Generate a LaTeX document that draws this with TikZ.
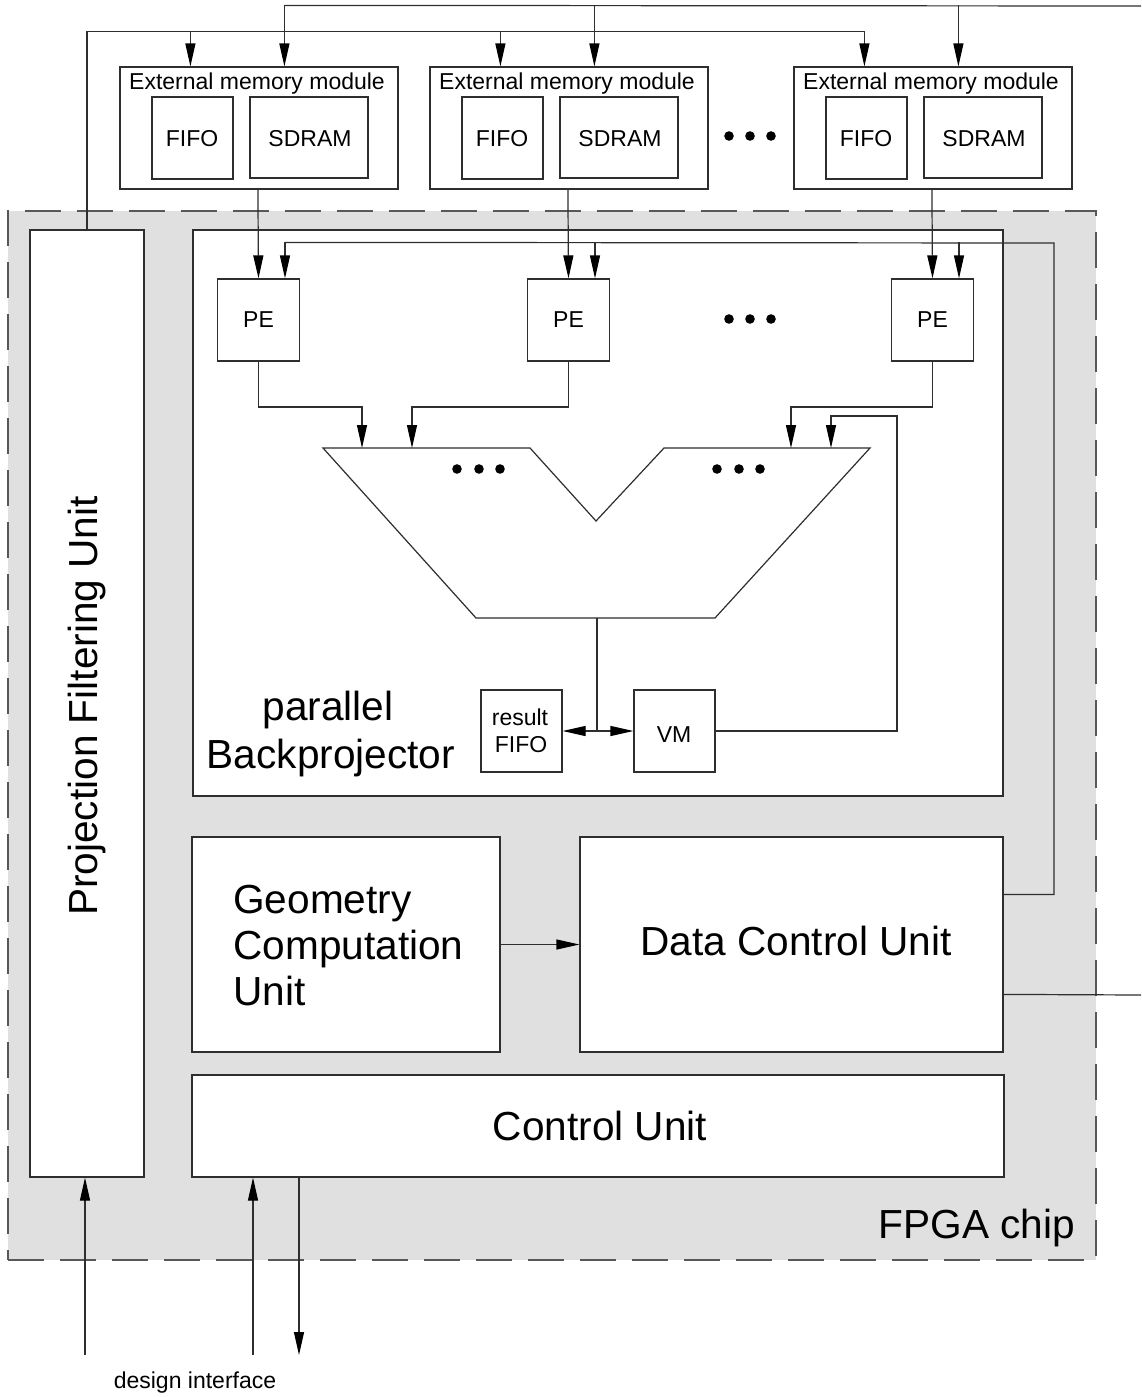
\documentclass[tikz,border=0pt]{standalone}
\usepackage{fontspec}
\setmainfont{Liberation Sans}
\usetikzlibrary{arrows.meta,fit,calc}
\definecolor{chipgray}{HTML}{E0E0E0}
\definecolor{ln}{HTML}{2E2E2E}
\begin{document}
\begin{tikzpicture}[x=0.5pt,y=-0.5pt,
  box/.style={draw=ln, line width=0.6pt, fill=white, inner sep=0pt},
  wire/.style={draw=ln, line width=0.6pt},
  arr/.style={wire, -{Triangle[length=11.5pt,width=5pt,color=black]}},
  small/.style={font=\fontsize{11.5}{13}\selectfont, inner sep=0pt, anchor=base},
  big/.style={font=\fontsize{20.3}{23}\selectfont, inner sep=0pt, anchor=base},
  dot/.style={fill=black},
]
\useasboundingbox (0,0) rectangle (1141,1397);

% FPGA chip area
\node[fit={(8,211) (1096,1260)}, inner sep=0pt, fill=chipgray, draw=ln!80,
      dash pattern=on 18pt off 8pt, line width=0.6pt] (chip) {};
\node[big] (chiplbl) at (977,1238) {FPGA chip};

% External memory modules
\foreach \i/\L in {1/120, 2/430, 3/794} {
  \node[box, fit={(\L,67) ($(\L,67)+(278,122)$)}] (m\i) {};
  \node[box, fit={($(\L,97)+(32,0)$) ($(\L,97)+(113,82)$)}] (f\i) {};
  \node[box, fit={($(\L,97)+(130,0)$) ($(\L,97)+(248,81)$)}] (s\i) {};
  \node[small] (mt\i) at ($(\L,89)+(137,0)$) {External memory module};
  \node[small] (ft\i) at ($(\L,146)+(72,0)$) {FIFO};
  \node[small] (st\i) at ($(\L,146)+(190,0)$) {SDRAM};
}
\foreach \x in {729,750,771} \fill[dot] (\x,136) circle[radius=2.4pt];

% Projection Filtering Unit
\node[box, fit={(30,230) (144,1177)}] (pfu) {};
\node[big, rotate=90] (pfut) at (97,706) {Projection Filtering Unit};

% parallel Backprojector
\node[box, fit={(193,230) (1003,796)}] (bp) {};
\node[big] (bpt1) at (328,720) {parallel};
\node[big] (bpt2) at (331,768) {Backprojector};

% PEs
\node[box, fit={(217.5,279) (299.5,361)}] (pe1) {};
\node[box, fit={(527.5,279) (609.5,361)}] (pe2) {};
\node[box, fit={(891.5,279) (973.5,361)}] (pe3) {};
\foreach \p in {pe1,pe2,pe3} \node[small] at ($(\p.center)+(0,7)$) {PE};
\foreach \x in {729,750,771} \fill[dot] (\x,319) circle[radius=2.4pt];

% adder tree
\draw[wire, fill=white] (323,448) -- (530,448) -- (596,521) -- (664,448) -- (870,448)
   -- (715,618) -- (476,618) -- cycle;
\foreach \x in {457,479,500} \fill[dot] (\x,469) circle[radius=2.4pt];
\foreach \x in {717,739,760} \fill[dot] (\x,469) circle[radius=2.4pt];
\coordinate (in1) at (362,448);
\coordinate (in2) at (412,448);
\coordinate (in3) at (791,448);
\coordinate (in4) at (831,448);
\coordinate (addout) at (597,618);

% result FIFO and VM
\node[box, fit={(481,690) (562,772)}] (rf) {};
\node[small] at (520,725) {result};
\node[small] at (521,752) {FIFO};
\node[box, fit={(634,690) (715,772)}] (vm) {};
\node[small] at (674,742) {VM};

% lower units
\node[box, fit={(192,837) (500,1052)}] (gcu) {};
\node[big, anchor=base west] at (233,913) {Geometry};
\node[big, anchor=base west] at (233,959) {Computation};
\node[big, anchor=base west] at (233,1005) {Unit};
\node[box, fit={(580,837) (1003,1052)}] (dcu) {};
\node[big] at (796,955) {Data Control Unit};
\node[box, fit={(192,1075) (1004,1177)}] (cu) {};
\node[big] at (600,1140) {Control Unit};

% ---- connectors ----
\coordinate (topR) at (1141,6);
\coordinate (dcuR) at (1141,995);
\draw[wire] ($(m1.north west)+(165,-61)$) -- (topR);
\foreach \m in {m1,m2,m3}
  \draw[arr] ($(\m.north west)+(165,-61)$) -- ($(\m.north west)+(165,0)$);
\draw[wire] (pfu.north) |- ($(m3.north west)+(71,-35)$);
\foreach \m in {m1,m2,m3}
  \draw[arr] ($(\m.north west)+(71,-35)$) -- ($(\m.north west)+(71,0)$);

\draw[arr] ($(m1.south west)+(138.5,0)$) -- (pe1.north);
\draw[arr] ($(m2.south west)+(138.5,0)$) -- (pe2.north);
\draw[arr] ($(m3.south west)+(138.5,0)$) -- (pe3.north);

\draw[wire] ($(dcu.north east)+(0,58)$) -| (1054,243) -- ($(pe1.north)+(26.5,-36)$);
\foreach \p in {pe1,pe2,pe3}
  \draw[arr] ($(\p.north)+(26.5,-36)$) -- ($(\p.north)+(26.5,0)$);

\draw[arr] (pe1.south) |- (362,407) -- (in1);
\draw[arr] (pe2.south) |- (412,407) -- (in2);
\draw[arr] (pe3.south) |- (791,407) -- (in3);
\draw[arr] (vm.east) -| (897,416) -| (in4);

\draw[wire] (addout) -- (597,731) coordinate (split);
\draw[arr] (split) -- (rf.east);
\draw[arr] (split) -- (vm.west);

\draw[arr] (gcu.east) -- (gcu.east -| dcu.west);
\draw[wire] ($(dcu.north east)+(0,158)$) -- (dcuR);

\coordinate (dpfu) at (85,1355);
\coordinate (dcuin) at (253,1355);
\coordinate (dcuout) at (299,1355);
\draw[arr] (dpfu) -- (dpfu |- pfu.south);
\draw[arr] (dcuin) -- (dcuin |- cu.south);
\draw[arr] (dcuout |- cu.south) -- (dcuout);
\node[small] (di) at (195,1388) {design interface};
\end{tikzpicture}
\end{document}
